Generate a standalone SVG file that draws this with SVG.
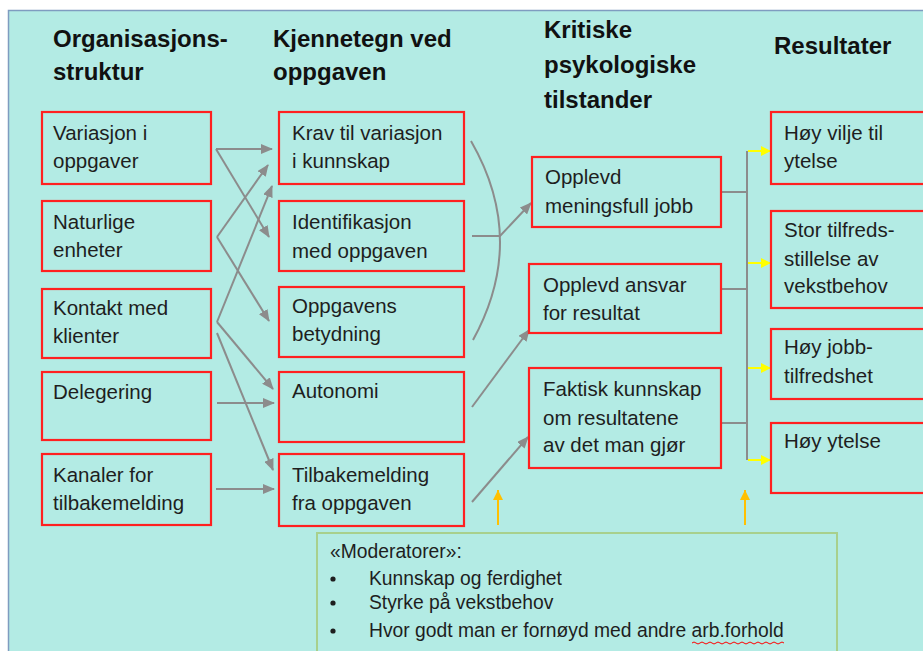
<svg xmlns="http://www.w3.org/2000/svg" width="923" height="651" viewBox="0 0 923 651">
<style>
.hd{font-family:"Liberation Sans",Arial,sans-serif;font-weight:bold;font-size:24px;fill:#111}
.tx{font-family:"Liberation Sans",Arial,sans-serif;font-size:20.5px;fill:#1e1e1e}
.mt{font-family:"Liberation Sans",Arial,sans-serif;font-size:19.3px;fill:#1e1e1e}
.bx{fill:none;stroke:#ff2020;stroke-width:2.2}
.cn{fill:none;stroke:#8c8c8c;stroke-width:2}
.ya{fill:none;stroke:#ffff00;stroke-width:2}
.oa{fill:none;stroke:#ffc000;stroke-width:2}
</style>
<defs>
<marker id="ag" markerUnits="userSpaceOnUse" markerWidth="12" markerHeight="10" refX="11" refY="5" orient="auto"><path d="M0,0 L12,5 L0,10 Z" fill="#8c8c8c"/></marker>
<marker id="ay" markerUnits="userSpaceOnUse" markerWidth="10" markerHeight="10" refX="10" refY="5" orient="auto"><path d="M0,0 L10,5 L0,10 Z" fill="#ffff00"/></marker>
<marker id="ao" markerUnits="userSpaceOnUse" markerWidth="10" markerHeight="10" refX="10" refY="5" orient="auto"><path d="M0,0 L10,5 L0,10 Z" fill="#ffc000"/></marker>
</defs>
<rect x="0" y="0" width="923" height="651" fill="#ffffff"/>
<rect x="8.5" y="10.5" width="930" height="660" fill="#b3ebe4" stroke="#7f9cc0" stroke-width="1.5"/>

<g id="headers">
<text class="hd" x="53" y="47">Organisasjons-</text>
<text class="hd" x="53" y="80">struktur</text>
<text class="hd" x="273" y="47">Kjennetegn ved</text>
<text class="hd" x="273" y="80">oppgaven</text>
<text class="hd" x="544" y="38">Kritiske</text>
<text class="hd" x="544" y="73">psykologiske</text>
<text class="hd" x="544" y="108">tilstander</text>
<text class="hd" x="774" y="54">Resultater</text>
</g>

<g id="connectors">
<path class="cn" d="M216,149 L272,149" marker-end="url(#ag)"/>
<path class="cn" d="M216,149 L269,237" marker-end="url(#ag)"/>
<path class="cn" d="M217,237 L268,165" marker-end="url(#ag)"/>
<path class="cn" d="M217,237 L269,321" marker-end="url(#ag)"/>
<path class="cn" d="M217,322 L272,186" marker-end="url(#ag)"/>
<path class="cn" d="M217,322 L273,389" marker-end="url(#ag)"/>
<path class="cn" d="M217,333 L273,470" marker-end="url(#ag)"/>
<path class="cn" d="M217,403 L274,403" marker-end="url(#ag)"/>
<path class="cn" d="M216,489 L274,489" marker-end="url(#ag)"/>
<path class="cn" d="M471,141 Q528,240 473,340"/>
<path class="cn" d="M472,236 L500,236 L531,203" marker-end="url(#ag)"/>
<path class="cn" d="M472,407 L529,330" marker-end="url(#ag)"/>
<path class="cn" d="M472,502 L528,437" marker-end="url(#ag)"/>
<path class="cn" d="M721,192 L747,192 M721,289 L747,289 M721,423 L747,423 M747,151 L747,460"/>
<path class="ya" d="M748,151 L771,151" marker-end="url(#ay)"/>
<path class="ya" d="M748,263 L771,263" marker-end="url(#ay)"/>
<path class="ya" d="M748,368 L771,368" marker-end="url(#ay)"/>
<path class="ya" d="M748,460 L771,460" marker-end="url(#ay)"/>
<path class="oa" d="M498,525 L498,490" marker-end="url(#ao)"/>
<path class="oa" d="M745,525 L745,490" marker-end="url(#ao)"/>
</g>

<g id="n-variasjon"><rect class="bx" x="42" y="112" width="169" height="72"/><text class="tx" x="53" y="140">Variasjon i</text><text class="tx" x="53" y="168">oppgaver</text></g>
<g id="n-naturlige"><rect class="bx" x="42" y="201" width="169" height="70"/><text class="tx" x="53" y="229">Naturlige</text><text class="tx" x="53" y="257">enheter</text></g>
<g id="n-kontakt"><rect class="bx" x="42" y="289" width="169" height="69"/><text class="tx" x="53" y="315">Kontakt med</text><text class="tx" x="53" y="343">klienter</text></g>
<g id="n-delegering"><rect class="bx" x="42" y="372" width="169" height="68"/><text class="tx" x="53" y="399">Delegering</text></g>
<g id="n-kanaler"><rect class="bx" x="42" y="454" width="169" height="71"/><text class="tx" x="53" y="482">Kanaler for</text><text class="tx" x="53" y="510">tilbakemelding</text></g>

<g id="n-krav"><rect class="bx" x="279" y="112" width="185" height="72"/><text class="tx" x="292" y="140">Krav til variasjon</text><text class="tx" x="292" y="168">i kunnskap</text></g>
<g id="n-identifikasjon"><rect class="bx" x="279" y="201" width="185" height="70"/><text class="tx" x="292" y="229">Identifikasjon</text><text class="tx" x="292" y="258">med oppgaven</text></g>
<g id="n-oppgavens"><rect class="bx" x="279" y="287" width="185" height="70"/><text class="tx" x="292" y="313">Oppgavens</text><text class="tx" x="292" y="341">betydning</text></g>
<g id="n-autonomi"><rect class="bx" x="279" y="372" width="185" height="70"/><text class="tx" x="292" y="398">Autonomi</text></g>
<g id="n-tilbakemelding"><rect class="bx" x="279" y="454" width="185" height="72"/><text class="tx" x="292" y="482">Tilbakemelding</text><text class="tx" x="292" y="510">fra oppgaven</text></g>

<g id="n-meningsfull"><rect class="bx" x="532" y="157" width="189" height="70"/><text class="tx" x="545" y="184">Opplevd</text><text class="tx" x="545" y="213">meningsfull jobb</text></g>
<g id="n-ansvar"><rect class="bx" x="529" y="264" width="192" height="69"/><text class="tx" x="543" y="292">Opplevd ansvar</text><text class="tx" x="543" y="320">for resultat</text></g>
<g id="n-faktisk"><rect class="bx" x="529" y="368" width="192" height="100"/><text class="tx" x="543" y="396">Faktisk kunnskap</text><text class="tx" x="543" y="425">om resultatene</text><text class="tx" x="543" y="452">av det man gjør</text></g>

<g id="n-vilje"><rect class="bx" x="771" y="112" width="170" height="72"/><text class="tx" x="784" y="140">Høy vilje til</text><text class="tx" x="784" y="168">ytelse</text></g>
<g id="n-tilfreds"><rect class="bx" x="771" y="211" width="170" height="97"/><text class="tx" x="784" y="237">Stor tilfreds-</text><text class="tx" x="784" y="266">stillelse av</text><text class="tx" x="784" y="293">vekstbehov</text></g>
<g id="n-jobb"><rect class="bx" x="771" y="329" width="170" height="70"/><text class="tx" x="784" y="354">Høy jobb-</text><text class="tx" x="784" y="383">tilfredshet</text></g>
<g id="n-ytelse"><rect class="bx" x="771" y="423" width="170" height="70"/><text class="tx" x="784" y="448">Høy ytelse</text></g>

<g id="n-moderatorer">
<rect x="317" y="533" width="520" height="130" fill="none" stroke="#a8d08d" stroke-width="2"/>
<text class="mt" x="330" y="558">«Moderatorer»:</text>
<circle cx="333" cy="579" r="2.6" fill="#1e1e1e"/>
<circle cx="333" cy="603" r="2.6" fill="#1e1e1e"/>
<circle cx="333" cy="631" r="2.6" fill="#1e1e1e"/>
<text class="mt" x="369" y="585">Kunnskap og ferdighet</text>
<text class="mt" x="369" y="609">Styrke på vekstbehov</text>
<text class="mt" x="369" y="637">Hvor godt man er fornøyd med andre arb.forhold</text>
<path d="M692,643 q2,-2 4,0 t4,0 t4,0 t4,0 t4,0 t4,0 t4,0 t4,0 t4,0 t4,0 t4,0 t4,0 t4,0 t4,0 t4,0 t4,0 t4,0 t4,0 t4,0 t4,0 t4,0 t4,0 t4,0" fill="none" stroke="#ff0000" stroke-width="1"/>
</g>
</svg>
